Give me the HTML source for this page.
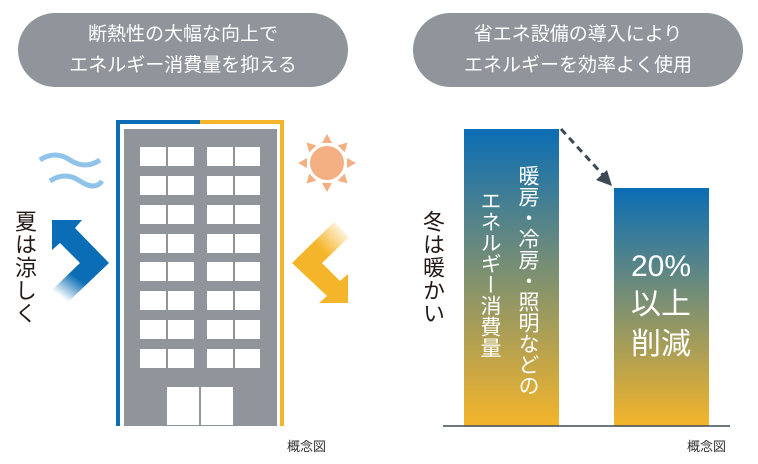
<!DOCTYPE html>
<html><head><meta charset="utf-8"><style>
body{margin:0;width:758px;height:464px;background:#fff;overflow:hidden;position:relative;font-family:"Liberation Sans","Noto Sans CJK JP",sans-serif;}
.pill{position:absolute;top:13px;width:330px;height:74px;border-radius:37px;background:#8f959a;color:#fff;font-size:19px;line-height:31px;text-align:center;padding-top:6px;box-sizing:border-box;}
.v{position:absolute;writing-mode:vertical-rl;font-size:22px;color:#231815;letter-spacing:1px;}
.bt{position:absolute;writing-mode:vertical-rl;font-size:21px;color:#fff;line-height:24px;}
.cap{position:absolute;font-size:13px;color:#333;}
</style></head><body>
<div class="pill" style="left:18px">断熱性の大幅な向上で<br>エネルギー消費量を抑える</div>
<div class="pill" style="left:413px">省エネ設備の導入により<br>エネルギーを効率よく使用</div>

<svg width="758" height="464" style="position:absolute;left:0;top:0">
<defs>
<linearGradient id="g" x1="0" y1="0" x2="0" y2="1"><stop offset="0" stop-color="#0b6db5"/><stop offset="1" stop-color="#f5b52a"/></linearGradient>
<linearGradient id="ba" x1="0.4" y1="0.3" x2="0.1" y2="0.9"><stop offset="0.5" stop-color="#0b6db5"/><stop offset="1" stop-color="#0b6db5" stop-opacity="0"/></linearGradient>
<linearGradient id="oa" x1="0.9" y1="0" x2="0.6" y2="0.4"><stop offset="0" stop-color="#f5b52a" stop-opacity="0"/><stop offset="1" stop-color="#f5b52a"/></linearGradient>
</defs>
<!-- frame -->
<path d="M118 426 V122 H200" fill="none" stroke="#0b6db5" stroke-width="4"/>
<path d="M200 122 H282 V426" fill="none" stroke="#f5b52a" stroke-width="4"/>
<rect x="124" y="129" width="153" height="297" fill="#8f959a"/>
<g fill="#fff">
<g id="row"><rect x="140" y="147" width="26" height="19"/><rect x="168" y="147" width="26" height="19"/><rect x="207" y="147" width="26" height="19"/><rect x="235" y="147" width="25" height="19"/></g>
<use href="#row" y="29"/><use href="#row" y="58"/><use href="#row" y="87"/><use href="#row" y="115"/><use href="#row" y="144"/><use href="#row" y="173"/><use href="#row" y="202"/>
<rect x="167" y="387" width="32" height="38"/><rect x="201" y="387" width="32" height="38"/>
</g>
<!-- waves -->
<path d="M40 160 q15 -10 30 0 t30 0" fill="none" stroke="#8fc3ea" stroke-width="5"/>
<path d="M50 181 q15 -10 30 0 t22 0" fill="none" stroke="#8fc3ea" stroke-width="5"/>
<!-- sun -->
<g fill="#f4b083">
<circle cx="327" cy="163" r="17"/>
<g id="ray"><polygon points="327,134 322,143 332,143"/></g>
<use href="#ray" transform="rotate(45 327 163)"/><use href="#ray" transform="rotate(90 327 163)"/><use href="#ray" transform="rotate(135 327 163)"/><use href="#ray" transform="rotate(180 327 163)"/><use href="#ray" transform="rotate(225 327 163)"/><use href="#ray" transform="rotate(270 327 163)"/><use href="#ray" transform="rotate(315 327 163)"/>
</g>
<!-- arrows -->
<polygon points="52,220 82,220 75,228 109,263 67,303 52,290 80,263 60,243 52,250" fill="url(#ba)"/>
<polygon points="334,222 349,237 322,263 340,281 348,274 348,303 319,303 327,296 292,263" fill="url(#oa)"/>
<!-- chart -->
<rect x="464" y="129" width="95" height="297" fill="url(#g)"/>
<rect x="614" y="188" width="95" height="238" fill="url(#g)"/>
<line x1="443" y1="426" x2="730" y2="426" stroke="#3c4a55" stroke-width="1.5"/>
<line x1="561" y1="129" x2="604" y2="176" stroke="#3c4a55" stroke-width="3" stroke-dasharray="7,5"/>
<polygon points="612,186 596,180 607,170" fill="#3c4a55"/>
<text x="661" y="276" fill="#fff" font-size="30" text-anchor="middle" font-family="Liberation Sans, Noto Sans CJK JP, sans-serif">20%</text>
<text x="661" y="314" fill="#fff" font-size="30" text-anchor="middle" font-family="Liberation Sans, Noto Sans CJK JP, sans-serif">以上</text>
<text x="661" y="354" fill="#fff" font-size="30" text-anchor="middle" font-family="Liberation Sans, Noto Sans CJK JP, sans-serif">削減</text>
</svg>
<div class="v" style="left:8px;top:210px">夏は涼しく</div>
<div class="v" style="left:416px;top:210px">冬は暖かい</div>
<div class="bt" style="left:515px;top:165px">暖房・冷房・照明などの</div>
<div class="bt" style="left:477px;top:190px">エネルギー消費量</div>
<div class="cap" style="left:287px;top:436px">概念図</div>
<div class="cap" style="left:687px;top:436px">概念図</div>
</body></html>
